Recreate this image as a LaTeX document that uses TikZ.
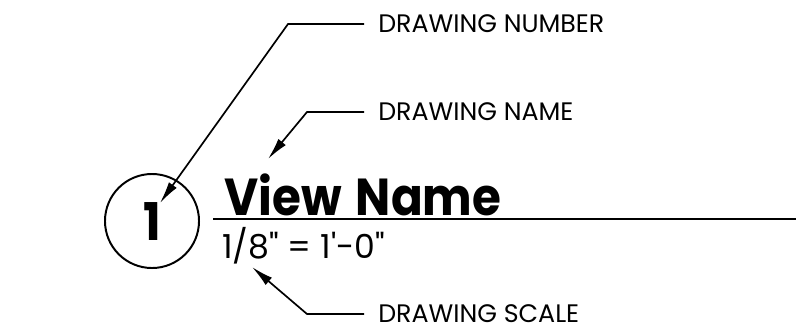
\documentclass[tikz,border=0pt]{standalone}
\usepackage{fontspec}
\setmainfont{Poppins}[Ligatures=TeXOff]
\newfontfamily\titlefont{Poppins}[Ligatures=TeXOff, FakeStretch=0.9]
\usetikzlibrary{arrows.meta,positioning}
\tikzset{
  lbl/.style={anchor=west, inner sep=0pt, font=\fontsize{18}{20}\selectfont},
  leader/.style={{Latex[length=5.5mm,width=2.4mm]}-, line width=1.2pt, draw=black, shorten >=3.5mm},
}
\begin{document}
\begin{tikzpicture}[x=0.025cm, y=-0.025cm]
  \useasboundingbox (0,0) rectangle (796,332);
  % view title
  \node[circle, draw, line width=1.4pt, minimum size=2.35cm, inner sep=0pt,
        font=\fontsize{37}{40}\titlefont\bfseries] (num1) at (152,221) {1};
  \node[anchor=base west, inner sep=0pt, font=\fontsize{37}{40}\titlefont\bfseries] (vname) at (224,215) {View\kern3pt\ Name};
  \node[anchor=base west, inner sep=0pt, font=\fontsize{23.5}{26}\selectfont] (vscale) at (222,258) {1/8" = 1'-0"};
  \coordinate (ulA) at (213,219);
  \coordinate (ulB) at (796,219);
  \draw[line width=2pt] (ulA) -- (ulB);
  % callouts
  \node[lbl] (lnum) at (378,24) {DRAWING NUMBER};
  \node[lbl] (lname) at (378,112) {DRAWING NAME};
  \node[lbl] (lscale) at (378,314) {DRAWING SCALE};
  \coordinate (tipnum) at (160,203);
  \coordinate (tipname) at (268,159);
  \coordinate (tipscale) at (252,267);
  \coordinate (bendnum) at (288,24);
  \coordinate (bendname) at (307,112);
  \coordinate (bendscale) at (307,314);
  \draw[leader] (tipnum) -- (bendnum) -- (lnum.west);
  \draw[leader] (tipname) -- (bendname) -- (lname.west);
  \draw[leader] (tipscale) -- (bendscale) -- (lscale.west);
\end{tikzpicture}
\end{document}
